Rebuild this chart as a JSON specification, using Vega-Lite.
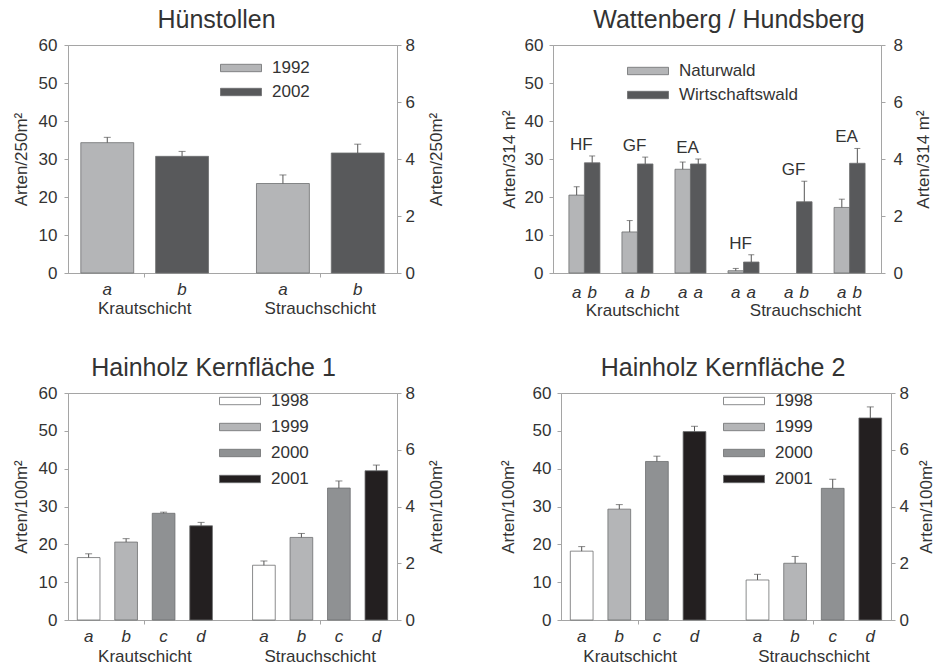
{
  "$schema": "https://vega.github.io/schema/vega-lite/v6.json",
  "background": "white",
  "padding": {"left": 11, "top": 7, "right": 2, "bottom": 1},
  "config": {
    "font": "Liberation Sans",
    "view": {"stroke": "#a5a5a5", "strokeWidth": 1},
    "axis": {"domainColor": "#a5a5a5", "tickColor": "#a5a5a5", "labelColor": "#333333", "titleColor": "#333333", "labelFontSize": 17, "titleFontSize": 17, "titleFontWeight": "normal", "grid": false, "tickSize": 4},
    "title": {"fontSize": 25, "fontWeight": "normal", "color": "#333333", "offset": 3, "frame": "group", "anchor": "middle"},
    "legend": {"orient": "none", "title": null, "padding": 0, "labelFontSize": 17, "labelColor": "#333333", "symbolType": "M-1,-0.37L3.1,-0.37L3.1,0.37L-1,0.37Z", "symbolSize": 400, "symbolStrokeColor": "#6d6e70", "symbolStrokeWidth": 0.8, "labelOffset": 31, "rowPadding": 5},
    "bar": {"stroke": "#6d6e70", "strokeWidth": 0.8},
    "rule": {"color": "#555555", "strokeWidth": 1},
    "tick": {"color": "#555555", "thickness": 1},
    "text": {"color": "#333333", "fontSize": 17}
  },
  "datasets": {
    "hs": [
      {"layer": "Krautschicht", "g": "1992", "v": 34.3, "e": 35.7, "lab": "a"},
      {"layer": "Krautschicht", "g": "2002", "v": 30.7, "e": 32.0, "lab": "b"},
      {"layer": "Strauchschicht", "g": "1992", "v": 3.14, "e": 3.44, "lab": "a"},
      {"layer": "Strauchschicht", "g": "2002", "v": 4.21, "e": 4.52, "lab": "b"}
    ],
    "wh": [
      {"layer": "Krautschicht", "pair": "K-HF", "site": "HF", "g": "Naturwald", "v": 20.5, "e": 22.7, "lab": "a"},
      {"layer": "Krautschicht", "pair": "K-HF", "site": "HF", "g": "Wirtschaftswald", "v": 29.0, "e": 30.8, "lab": "b"},
      {"layer": "Krautschicht", "pair": "K-GF", "site": "GF", "g": "Naturwald", "v": 10.8, "e": 13.8, "lab": "a"},
      {"layer": "Krautschicht", "pair": "K-GF", "site": "GF", "g": "Wirtschaftswald", "v": 28.7, "e": 30.5, "lab": "b"},
      {"layer": "Krautschicht", "pair": "K-EA", "site": "EA", "g": "Naturwald", "v": 27.3, "e": 29.2, "lab": "a"},
      {"layer": "Krautschicht", "pair": "K-EA", "site": "EA", "g": "Wirtschaftswald", "v": 28.7, "e": 30.0, "lab": "a"},
      {"layer": "Strauchschicht", "pair": "S-HF", "site": "HF", "g": "Naturwald", "v": 0.08, "e": 0.16, "lab": "a"},
      {"layer": "Strauchschicht", "pair": "S-HF", "site": "HF", "g": "Wirtschaftswald", "v": 0.385, "e": 0.64, "lab": "a"},
      {"layer": "Strauchschicht", "pair": "S-GF", "site": "GF", "g": "Naturwald", "v": 0, "e": null, "lab": "a"},
      {"layer": "Strauchschicht", "pair": "S-GF", "site": "GF", "g": "Wirtschaftswald", "v": 2.5, "e": 3.22, "lab": "b"},
      {"layer": "Strauchschicht", "pair": "S-EA", "site": "EA", "g": "Naturwald", "v": 2.3, "e": 2.59, "lab": "a"},
      {"layer": "Strauchschicht", "pair": "S-EA", "site": "EA", "g": "Wirtschaftswald", "v": 3.85, "e": 4.37, "lab": "b"}
    ],
    "k1": [
      {"layer": "Krautschicht", "g": "1998", "v": 16.5, "e": 17.5, "lab": "a"},
      {"layer": "Krautschicht", "g": "1999", "v": 20.6, "e": 21.5, "lab": "b"},
      {"layer": "Krautschicht", "g": "2000", "v": 28.2, "e": 28.5, "lab": "c"},
      {"layer": "Krautschicht", "g": "2001", "v": 24.9, "e": 25.8, "lab": "d"},
      {"layer": "Strauchschicht", "g": "1998", "v": 1.93, "e": 2.08, "lab": "a"},
      {"layer": "Strauchschicht", "g": "1999", "v": 2.91, "e": 3.05, "lab": "b"},
      {"layer": "Strauchschicht", "g": "2000", "v": 4.65, "e": 4.9, "lab": "c"},
      {"layer": "Strauchschicht", "g": "2001", "v": 5.26, "e": 5.46, "lab": "d"}
    ],
    "k2": [
      {"layer": "Krautschicht", "g": "1998", "v": 18.2, "e": 19.4, "lab": "a"},
      {"layer": "Krautschicht", "g": "1999", "v": 29.3, "e": 30.5, "lab": "b"},
      {"layer": "Krautschicht", "g": "2000", "v": 41.9, "e": 43.3, "lab": "c"},
      {"layer": "Krautschicht", "g": "2001", "v": 49.8, "e": 51.2, "lab": "d"},
      {"layer": "Strauchschicht", "g": "1998", "v": 1.41, "e": 1.61, "lab": "a"},
      {"layer": "Strauchschicht", "g": "1999", "v": 2.0, "e": 2.24, "lab": "b"},
      {"layer": "Strauchschicht", "g": "2000", "v": 4.64, "e": 4.96, "lab": "c"},
      {"layer": "Strauchschicht", "g": "2001", "v": 7.12, "e": 7.51, "lab": "d"}
    ]
  },
  "spacing": 36,
  "resolve": {"scale": {"x": "independent", "y": "independent", "xOffset": "independent", "color": "independent"}, "legend": {"color": "independent"}},
  "vconcat": [
    {
      "spacing": 54,
      "resolve": {"scale": {"x": "independent", "y": "independent", "xOffset": "independent", "color": "independent"}, "legend": {"color": "independent"}},
      "hconcat": [
        {
          "width": 329, "height": 228,
          "title": {"text": "Hünstollen", "dx": -16},
          "data": {"name": "hs"},
          "encoding": {
            "x": {"field": "layer", "type": "nominal", "scale": {"domain": ["Krautschicht", "Strauchschicht"], "paddingInner": 0.273, "paddingOuter": 0.073}, "axis": {"title": null, "labelAngle": 0, "labelBaseline": "middle", "labelPadding": 31}},
            "xOffset": {"field": "g", "type": "nominal", "scale": {"domain": ["1992", "2002"], "paddingInner": 0.293, "paddingOuter": 0}}
          },
          "layer": [
            {
              "transform": [{"filter": "datum.layer == 'Krautschicht'"}],
              "layer": [
                {"mark": "bar", "encoding": {
                  "y": {"field": "v", "type": "quantitative", "scale": {"domain": [0, 60]}, "axis": {"orient": "left", "values": [0, 10, 20, 30, 40, 50, 60], "title": "Arten/250m²", "labelPadding": 7, "titlePadding": 8}},
                  "color": {"field": "g", "type": "nominal", "scale": {"domain": ["1992", "2002"], "range": ["#b4b5b7", "#58595b"]}, "legend": {"legendX": 152, "legendY": 12.5}}}},
                {"mark": "rule", "encoding": {"y": {"field": "v", "type": "quantitative", "scale": {"domain": [0, 60]}, "axis": {"orient": "left", "values": [0, 10, 20, 30, 40, 50, 60], "title": "Arten/250m²", "labelPadding": 7, "titlePadding": 8}}, "y2": {"field": "e"}}},
                {"mark": {"type": "tick", "size": 7}, "encoding": {"y": {"field": "e", "type": "quantitative", "scale": {"domain": [0, 60]}, "axis": {"orient": "left", "values": [0, 10, 20, 30, 40, 50, 60], "title": "Arten/250m²", "labelPadding": 7, "titlePadding": 8}}}},
                {"mark": {"type": "text", "fontStyle": "italic", "baseline": "middle", "dy": 17}, "encoding": {"y": {"datum": 0, "type": "quantitative", "scale": {"domain": [0, 60]}, "axis": {"orient": "left", "values": [0, 10, 20, 30, 40, 50, 60], "title": "Arten/250m²", "labelPadding": 7, "titlePadding": 8}}, "text": {"field": "lab"}}}
              ]
            },
            {
              "transform": [{"filter": "datum.layer == 'Strauchschicht'"}],
              "layer": [
                {"mark": "bar", "encoding": {
                  "y": {"field": "v", "type": "quantitative", "scale": {"domain": [0, 8]}, "axis": {"orient": "right", "values": [0, 2, 4, 6, 8], "title": "Arten/250m²", "labelPadding": 4, "titlePadding": 14, "titleAngle": 270, "titleBaseline": "top"}},
                  "color": {"field": "g", "type": "nominal", "scale": {"domain": ["1992", "2002"], "range": ["#b4b5b7", "#58595b"]}, "legend": {"legendX": 152, "legendY": 12.5}}}},
                {"mark": "rule", "encoding": {"y": {"field": "v", "type": "quantitative", "scale": {"domain": [0, 8]}, "axis": {"orient": "right", "values": [0, 2, 4, 6, 8], "title": "Arten/250m²", "labelPadding": 4, "titlePadding": 14, "titleAngle": 270, "titleBaseline": "top"}}, "y2": {"field": "e"}}},
                {"mark": {"type": "tick", "size": 7}, "encoding": {"y": {"field": "e", "type": "quantitative", "scale": {"domain": [0, 8]}, "axis": {"orient": "right", "values": [0, 2, 4, 6, 8], "title": "Arten/250m²", "labelPadding": 4, "titlePadding": 14, "titleAngle": 270, "titleBaseline": "top"}}}},
                {"mark": {"type": "text", "fontStyle": "italic", "baseline": "middle", "dy": 17}, "encoding": {"y": {"datum": 0, "type": "quantitative", "scale": {"domain": [0, 8]}, "axis": {"orient": "right", "values": [0, 2, 4, 6, 8], "title": "Arten/250m²", "labelPadding": 4, "titlePadding": 14, "titleAngle": 270, "titleBaseline": "top"}}, "text": {"field": "lab"}}}
              ]
            }
          ],
          "resolve": {"scale": {"y": "independent"}}
        },
        {
          "width": 328, "height": 228,
          "title": {"text": "Wattenberg / Hundsberg", "dx": 12},
          "data": {"name": "wh"},
          "encoding": {
            "x": {"field": "pair", "type": "nominal", "scale": {"domain": ["K-HF", "K-GF", "K-EA", "S-HF", "S-GF", "S-EA"], "paddingInner": 0.415, "paddingOuter": 0.3}, "axis": {"title": null, "labelAngle": 0, "ticks": false, "values": ["K-GF", "S-GF"], "labelExpr": "datum.value == 'K-GF' ? 'Krautschicht' : 'Strauchschicht'", "labelBaseline": "middle", "labelPadding": 37, "labelOffset": {"condition": {"test": "datum.value == 'K-GF'", "value": -5}, "value": 9}}}
          },
          "layer": [
            {
              "transform": [{"filter": "datum.layer == 'Krautschicht'"}],
              "layer": [
                {"transform": [{"filter": "datum.v > 0"}], "mark": "bar", "encoding": {
                  "xOffset": {"field": "g", "type": "nominal", "scale": {"domain": ["Naturwald", "Wirtschaftswald"], "paddingInner": 0, "paddingOuter": 0}},
                  "y": {"field": "v", "type": "quantitative", "scale": {"domain": [0, 60]}, "axis": {"orient": "left", "values": [0, 10, 20, 30, 40, 50, 60], "title": "Arten/314 m²", "labelPadding": 6, "titlePadding": 6}},
                  "color": {"field": "g", "type": "nominal", "scale": {"domain": ["Naturwald", "Wirtschaftswald"], "range": ["#b4b5b7", "#58595b"]}, "legend": {"legendX": 74, "legendY": 15.5}}}},
                {"transform": [{"filter": "isValid(datum.e)"}], "mark": "rule", "encoding": {"xOffset": {"field": "g", "type": "nominal", "scale": {"domain": ["Naturwald", "Wirtschaftswald"], "paddingInner": 0, "paddingOuter": 0}}, "y": {"field": "v", "type": "quantitative", "scale": {"domain": [0, 60]}, "axis": {"orient": "left", "values": [0, 10, 20, 30, 40, 50, 60], "title": "Arten/314 m²", "labelPadding": 6, "titlePadding": 6}}, "y2": {"field": "e"}}},
                {"transform": [{"filter": "isValid(datum.e)"}], "mark": {"type": "tick", "size": 6}, "encoding": {"xOffset": {"field": "g", "type": "nominal", "scale": {"domain": ["Naturwald", "Wirtschaftswald"], "paddingInner": 0, "paddingOuter": 0}}, "y": {"field": "e", "type": "quantitative", "scale": {"domain": [0, 60]}, "axis": {"orient": "left", "values": [0, 10, 20, 30, 40, 50, 60], "title": "Arten/314 m²", "labelPadding": 6, "titlePadding": 6}}}},
                {"mark": {"type": "text", "fontStyle": "italic", "baseline": "middle", "dy": 20}, "encoding": {"xOffset": {"field": "g", "type": "nominal", "scale": {"domain": ["Naturwald", "Wirtschaftswald"], "paddingInner": 0, "paddingOuter": 0}}, "y": {"datum": 0, "type": "quantitative", "scale": {"domain": [0, 60]}, "axis": {"orient": "left", "values": [0, 10, 20, 30, 40, 50, 60], "title": "Arten/314 m²", "labelPadding": 6, "titlePadding": 6}}, "text": {"field": "lab"}}},
                {"transform": [{"filter": "datum.g == 'Wirtschaftswald'"}], "mark": {"type": "text", "baseline": "alphabetic", "dy": -6, "dx": -3}, "encoding": {"y": {"field": "e", "type": "quantitative", "scale": {"domain": [0, 60]}, "axis": {"orient": "left", "values": [0, 10, 20, 30, 40, 50, 60], "title": "Arten/314 m²", "labelPadding": 6, "titlePadding": 6}}, "text": {"field": "site"}}}
              ]
            },
            {
              "transform": [{"filter": "datum.layer == 'Strauchschicht'"}],
              "layer": [
                {"transform": [{"filter": "datum.v > 0"}], "mark": "bar", "encoding": {
                  "xOffset": {"field": "g", "type": "nominal", "scale": {"domain": ["Naturwald", "Wirtschaftswald"], "paddingInner": 0, "paddingOuter": 0}},
                  "y": {"field": "v", "type": "quantitative", "scale": {"domain": [0, 8]}, "axis": {"orient": "right", "values": [0, 2, 4, 6, 8], "title": "Arten/314 m²", "labelPadding": 8, "titlePadding": 13, "titleAngle": 270, "titleBaseline": "top"}},
                  "color": {"field": "g", "type": "nominal", "scale": {"domain": ["Naturwald", "Wirtschaftswald"], "range": ["#b4b5b7", "#58595b"]}, "legend": {"legendX": 74, "legendY": 15.5}}}},
                {"transform": [{"filter": "isValid(datum.e)"}], "mark": "rule", "encoding": {"xOffset": {"field": "g", "type": "nominal", "scale": {"domain": ["Naturwald", "Wirtschaftswald"], "paddingInner": 0, "paddingOuter": 0}}, "y": {"field": "v", "type": "quantitative", "scale": {"domain": [0, 8]}, "axis": {"orient": "right", "values": [0, 2, 4, 6, 8], "title": "Arten/314 m²", "labelPadding": 8, "titlePadding": 13, "titleAngle": 270, "titleBaseline": "top"}}, "y2": {"field": "e"}}},
                {"transform": [{"filter": "isValid(datum.e)"}], "mark": {"type": "tick", "size": 6}, "encoding": {"xOffset": {"field": "g", "type": "nominal", "scale": {"domain": ["Naturwald", "Wirtschaftswald"], "paddingInner": 0, "paddingOuter": 0}}, "y": {"field": "e", "type": "quantitative", "scale": {"domain": [0, 8]}, "axis": {"orient": "right", "values": [0, 2, 4, 6, 8], "title": "Arten/314 m²", "labelPadding": 8, "titlePadding": 13, "titleAngle": 270, "titleBaseline": "top"}}}},
                {"mark": {"type": "text", "fontStyle": "italic", "baseline": "middle", "dy": 20}, "encoding": {"xOffset": {"field": "g", "type": "nominal", "scale": {"domain": ["Naturwald", "Wirtschaftswald"], "paddingInner": 0, "paddingOuter": 0}}, "y": {"datum": 0, "type": "quantitative", "scale": {"domain": [0, 8]}, "axis": {"orient": "right", "values": [0, 2, 4, 6, 8], "title": "Arten/314 m²", "labelPadding": 8, "titlePadding": 13, "titleAngle": 270, "titleBaseline": "top"}}, "text": {"field": "lab"}}},
                {"transform": [{"filter": "datum.g == 'Wirtschaftswald'"}], "mark": {"type": "text", "baseline": "alphabetic", "dy": -6, "dx": -3}, "encoding": {"y": {"field": "e", "type": "quantitative", "scale": {"domain": [0, 8]}, "axis": {"orient": "right", "values": [0, 2, 4, 6, 8], "title": "Arten/314 m²", "labelPadding": 8, "titlePadding": 13, "titleAngle": 270, "titleBaseline": "top"}}, "text": {"field": "site"}}}
              ]
            }
          ],
          "resolve": {"scale": {"y": "independent"}}
        }
      ]
    },
    {
      "spacing": 53,
      "resolve": {"scale": {"x": "independent", "y": "independent", "xOffset": "independent", "color": "independent"}, "legend": {"color": "independent"}},
      "hconcat": [
        {
          "width": 329, "height": 227,
          "title": {"text": "Hainholz Kernfläche 1", "dx": -19},
          "data": {"name": "k1"},
          "encoding": {
            "x": {"field": "layer", "type": "nominal", "scale": {"domain": ["Krautschicht", "Strauchschicht"], "paddingInner": 0.229, "paddingOuter": 0.053}, "axis": {"title": null, "labelAngle": 0, "labelBaseline": "middle", "labelPadding": 32}},
            "xOffset": {"field": "g", "type": "nominal", "scale": {"domain": ["1998", "1999", "2000", "2001"], "paddingInner": 0.395, "paddingOuter": 0}}
          },
          "layer": [
            {
              "transform": [{"filter": "datum.layer == 'Krautschicht'"}],
              "layer": [
                {"mark": "bar", "encoding": {
                  "y": {"field": "v", "type": "quantitative", "scale": {"domain": [0, 60]}, "axis": {"orient": "left", "values": [0, 10, 20, 30, 40, 50, 60], "title": "Arten/100m²", "labelPadding": 7, "titlePadding": 8}},
                  "color": {"field": "g", "type": "nominal", "scale": {"domain": ["1998", "1999", "2000", "2001"], "range": ["#ffffff", "#b4b5b7", "#8f9193", "#231f20"]}, "legend": {"legendX": 151, "legendY": -2.5, "rowPadding": 7}}}},
                {"mark": "rule", "encoding": {"y": {"field": "v", "type": "quantitative", "scale": {"domain": [0, 60]}, "axis": {"orient": "left", "values": [0, 10, 20, 30, 40, 50, 60], "title": "Arten/100m²", "labelPadding": 7, "titlePadding": 8}}, "y2": {"field": "e"}}},
                {"mark": {"type": "tick", "size": 7}, "encoding": {"y": {"field": "e", "type": "quantitative", "scale": {"domain": [0, 60]}, "axis": {"orient": "left", "values": [0, 10, 20, 30, 40, 50, 60], "title": "Arten/100m²", "labelPadding": 7, "titlePadding": 8}}}},
                {"mark": {"type": "text", "fontStyle": "italic", "baseline": "middle", "dy": 17}, "encoding": {"y": {"datum": 0, "type": "quantitative", "scale": {"domain": [0, 60]}, "axis": {"orient": "left", "values": [0, 10, 20, 30, 40, 50, 60], "title": "Arten/100m²", "labelPadding": 7, "titlePadding": 8}}, "text": {"field": "lab"}}}
              ]
            },
            {
              "transform": [{"filter": "datum.layer == 'Strauchschicht'"}],
              "layer": [
                {"mark": "bar", "encoding": {
                  "y": {"field": "v", "type": "quantitative", "scale": {"domain": [0, 8]}, "axis": {"orient": "right", "values": [0, 2, 4, 6, 8], "title": "Arten/100m²", "labelPadding": 4, "titlePadding": 14, "titleAngle": 270, "titleBaseline": "top"}},
                  "color": {"field": "g", "type": "nominal", "scale": {"domain": ["1998", "1999", "2000", "2001"], "range": ["#ffffff", "#b4b5b7", "#8f9193", "#231f20"]}, "legend": {"legendX": 151, "legendY": -2.5, "rowPadding": 7}}}},
                {"mark": "rule", "encoding": {"y": {"field": "v", "type": "quantitative", "scale": {"domain": [0, 8]}, "axis": {"orient": "right", "values": [0, 2, 4, 6, 8], "title": "Arten/100m²", "labelPadding": 4, "titlePadding": 14, "titleAngle": 270, "titleBaseline": "top"}}, "y2": {"field": "e"}}},
                {"mark": {"type": "tick", "size": 7}, "encoding": {"y": {"field": "e", "type": "quantitative", "scale": {"domain": [0, 8]}, "axis": {"orient": "right", "values": [0, 2, 4, 6, 8], "title": "Arten/100m²", "labelPadding": 4, "titlePadding": 14, "titleAngle": 270, "titleBaseline": "top"}}}},
                {"mark": {"type": "text", "fontStyle": "italic", "baseline": "middle", "dy": 17}, "encoding": {"y": {"datum": 0, "type": "quantitative", "scale": {"domain": [0, 8]}, "axis": {"orient": "right", "values": [0, 2, 4, 6, 8], "title": "Arten/100m²", "labelPadding": 4, "titlePadding": 14, "titleAngle": 270, "titleBaseline": "top"}}, "text": {"field": "lab"}}}
              ]
            }
          ],
          "resolve": {"scale": {"y": "independent"}}
        },
        {
          "width": 330, "height": 227,
          "title": {"text": "Hainholz Kernfläche 2", "dx": -3},
          "data": {"name": "k2"},
          "encoding": {
            "x": {"field": "layer", "type": "nominal", "scale": {"domain": ["Krautschicht", "Strauchschicht"], "paddingInner": 0.229, "paddingOuter": 0.053}, "axis": {"title": null, "labelAngle": 0, "labelBaseline": "middle", "labelPadding": 32, "labelOffset": {"condition": {"test": "datum.value == 'Krautschicht'", "value": -8}, "value": 0}}},
            "xOffset": {"field": "g", "type": "nominal", "scale": {"domain": ["1998", "1999", "2000", "2001"], "paddingInner": 0.395, "paddingOuter": 0}}
          },
          "layer": [
            {
              "transform": [{"filter": "datum.layer == 'Krautschicht'"}],
              "layer": [
                {"mark": "bar", "encoding": {
                  "y": {"field": "v", "type": "quantitative", "scale": {"domain": [0, 60]}, "axis": {"orient": "left", "values": [0, 10, 20, 30, 40, 50, 60], "title": "Arten/100m²", "labelPadding": 6, "titlePadding": 15}},
                  "color": {"field": "g", "type": "nominal", "scale": {"domain": ["1998", "1999", "2000", "2001"], "range": ["#ffffff", "#b4b5b7", "#8f9193", "#231f20"]}, "legend": {"legendX": 162, "legendY": -2.5, "rowPadding": 7}}}},
                {"mark": "rule", "encoding": {"y": {"field": "v", "type": "quantitative", "scale": {"domain": [0, 60]}, "axis": {"orient": "left", "values": [0, 10, 20, 30, 40, 50, 60], "title": "Arten/100m²", "labelPadding": 6, "titlePadding": 15}}, "y2": {"field": "e"}}},
                {"mark": {"type": "tick", "size": 7}, "encoding": {"y": {"field": "e", "type": "quantitative", "scale": {"domain": [0, 60]}, "axis": {"orient": "left", "values": [0, 10, 20, 30, 40, 50, 60], "title": "Arten/100m²", "labelPadding": 6, "titlePadding": 15}}}},
                {"mark": {"type": "text", "fontStyle": "italic", "baseline": "middle", "dy": 17}, "encoding": {"y": {"datum": 0, "type": "quantitative", "scale": {"domain": [0, 60]}, "axis": {"orient": "left", "values": [0, 10, 20, 30, 40, 50, 60], "title": "Arten/100m²", "labelPadding": 6, "titlePadding": 15}}, "text": {"field": "lab"}}}
              ]
            },
            {
              "transform": [{"filter": "datum.layer == 'Strauchschicht'"}],
              "layer": [
                {"mark": "bar", "encoding": {
                  "y": {"field": "v", "type": "quantitative", "scale": {"domain": [0, 8]}, "axis": {"orient": "right", "values": [0, 2, 4, 6, 8], "title": "Arten/100m²", "labelPadding": 4, "titlePadding": 10, "titleAngle": 270, "titleBaseline": "top"}},
                  "color": {"field": "g", "type": "nominal", "scale": {"domain": ["1998", "1999", "2000", "2001"], "range": ["#ffffff", "#b4b5b7", "#8f9193", "#231f20"]}, "legend": {"legendX": 162, "legendY": -2.5, "rowPadding": 7}}}},
                {"mark": "rule", "encoding": {"y": {"field": "v", "type": "quantitative", "scale": {"domain": [0, 8]}, "axis": {"orient": "right", "values": [0, 2, 4, 6, 8], "title": "Arten/100m²", "labelPadding": 4, "titlePadding": 10, "titleAngle": 270, "titleBaseline": "top"}}, "y2": {"field": "e"}}},
                {"mark": {"type": "tick", "size": 7}, "encoding": {"y": {"field": "e", "type": "quantitative", "scale": {"domain": [0, 8]}, "axis": {"orient": "right", "values": [0, 2, 4, 6, 8], "title": "Arten/100m²", "labelPadding": 4, "titlePadding": 10, "titleAngle": 270, "titleBaseline": "top"}}}},
                {"mark": {"type": "text", "fontStyle": "italic", "baseline": "middle", "dy": 17}, "encoding": {"y": {"datum": 0, "type": "quantitative", "scale": {"domain": [0, 8]}, "axis": {"orient": "right", "values": [0, 2, 4, 6, 8], "title": "Arten/100m²", "labelPadding": 4, "titlePadding": 10, "titleAngle": 270, "titleBaseline": "top"}}, "text": {"field": "lab"}}}
              ]
            }
          ],
          "resolve": {"scale": {"y": "independent"}}
        }
      ]
    }
  ]
}
